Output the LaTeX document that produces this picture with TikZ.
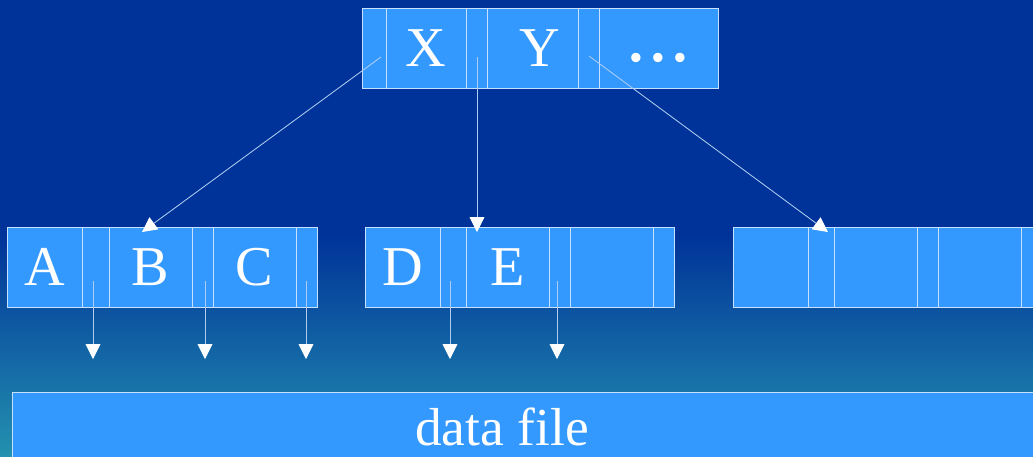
\documentclass[tikz,border=0pt]{standalone}
\usepackage{fontspec}
\setmainfont{Liberation Serif}
\usetikzlibrary{arrows.meta}
\definecolor{slidebg}{RGB}{0,51,153}
\definecolor{slideteal}{RGB}{35,145,175}
\definecolor{cellblue}{RGB}{51,153,255}
\definecolor{cellline}{RGB}{200,225,255}
\definecolor{ptrline}{RGB}{175,205,240}
\newcommand{\moredots}{\smash{\raisebox{-9.6pt}{\fontsize{56}{56}\selectfont.\hspace{1.6pt}.\hspace{1.6pt}.}}}

\begin{document}
\begin{tikzpicture}[x=0.025cm,y=-0.025cm,
  cell/.style={draw=cellline,fill=cellblue,line width=0.6pt,minimum height=2cm,
    inner sep=0pt,text=white,font=\fontsize{40}{40}\selectfont},
  pointer/.style={ptrline,line width=0.6pt,-{Triangle[length=10.5pt,width=10.5pt,color=white]}}]
  \clip (0,0) rectangle (1033,456);
  \fill[slidebg] (0,0) rectangle (1033,456);
  \shade[top color=slidebg,bottom color=slideteal] (0,235) rectangle (1033,456);

  % root node
  \foreach \l/\r/\t/\n in {362/386//r0,386/466/X/rX,466/487//r1,487/578/\hspace{10pt}Y/rY,578/599//r2,
      599/718/\moredots/rdots}
    \node[cell,minimum width={(\r-\l)*0.025cm}] (\n) at ({(\l+\r)/2},48) {\t};

  % leaves
  \foreach \l/\r/\t/\n in {7/82/A/lA,82/109//l1,109/192/B/lB,192/213//l2,213/296/C/lC,296/317//l3,
      365/440/D/mD,440/466//m1,466/549/E/mE,549/570//m2,570/653//mK,653/674//m3,
      733/808//q0,808/834//q1,834/917//q2,917/938//q3,938/1021//q4,1021/1060//q5}
    \node[cell,minimum width={(\r-\l)*0.025cm}] (\n) at ({(\l+\r)/2},267) {\t};

  % data file
  \draw[draw=cellline,fill=cellblue,line width=0.6pt] (12,392) rectangle (1050,480);
  \node[text=white,font=\fontsize{38}{38}\selectfont] (data) at (502,427) {data file};

  % pointers from the root
  \coordinate (r0s) at (381,57);
  \coordinate (r1s) at (477,57);
  \coordinate (r2s) at (589,56);
  \coordinate (r0t) at (142,232);
  \coordinate (r1t) at (477,232);
  \coordinate (r2t) at (828,232);
  \draw[pointer] (r0s) -- (r0t);
  \draw[pointer] (r1s) -- (r1t);
  \draw[pointer] (r2s) -- (r2t);

  % pointers to the data file
  \foreach \n/\x in {l1/93,l2/205,l3/306,m1/450,m2/557}{
    \coordinate (\n s) at (\x,281);
    \coordinate (\n t) at (\x,359);
    \draw[pointer] (\n s) -- (\n t);
  }
\end{tikzpicture}
\end{document}
